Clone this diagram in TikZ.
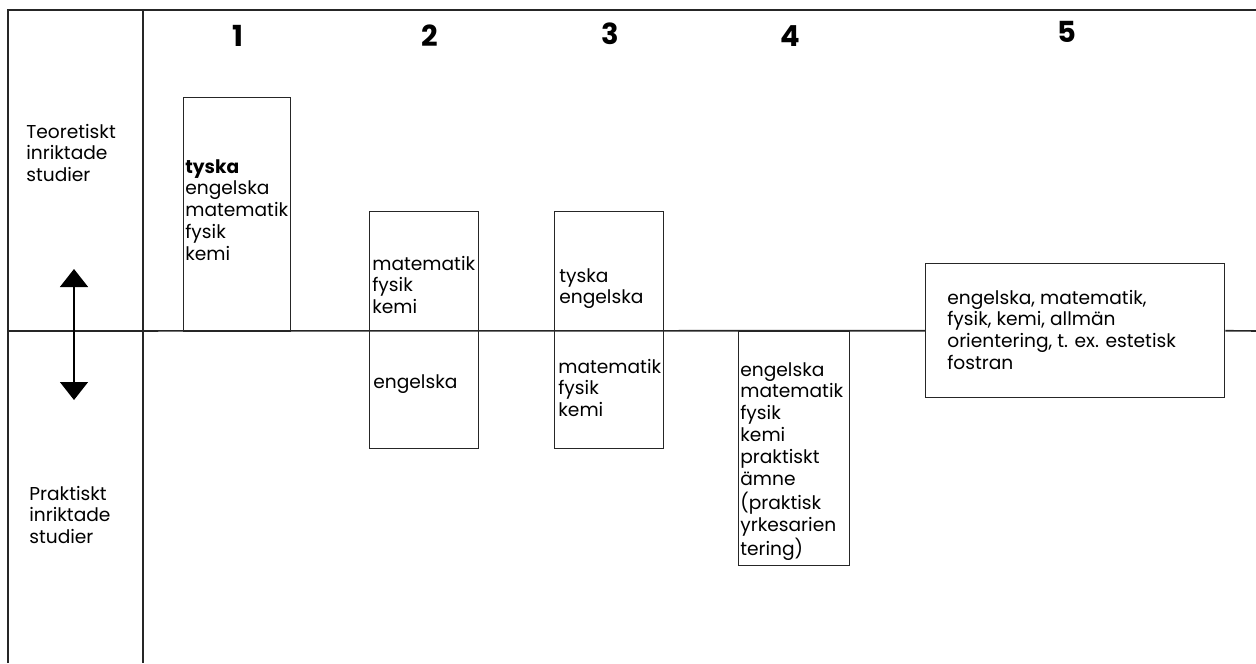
\documentclass[tikz,border=0pt]{standalone}
\usepackage{fontspec}
\setmainfont{Poppins}
\usetikzlibrary{arrows.meta}
\newcommand\txtlines[1]{\begin{tabular}[t]{@{}l@{}}#1\end{tabular}}
\begin{document}
\begin{tikzpicture}[x=0.02cm,y=-0.02cm,
  frame/.style={line width=1.1pt,black!85},
  subjbox/.style={draw,line width=0.8pt,black!85,inner sep=0pt,anchor=north west},
  txt/.style={inner sep=0pt,anchor=base west,font=\fontsize{10.6}{12.5}\selectfont},
  hdr/.style={inner sep=0pt,anchor=base,font=\fontsize{16.5}{19}\selectfont\bfseries}]
\useasboundingbox (0,0) rectangle (1256,663);
% frame
\coordinate (tl) at (8,10);
\coordinate (tr) at (1256,10);
\coordinate (bl) at (8,663);
\coordinate (dt) at (143,10);
\coordinate (db) at (143,663);
\coordinate (ml) at (8,331);
\coordinate (mr) at (1256,331);
\draw[frame] (bl) -- (tl) -- (tr);
\draw[frame] (dt) -- (db);
% headers
\node[hdr] (h1) at (238,46) {1};
\node[hdr] (h2) at (430,46) {2};
\node[hdr] (h3) at (610,44) {3};
\node[hdr] (h4) at (790,46) {4};
\node[hdr] (h5) at (1067,42) {5};
% boxes
\node[subjbox,minimum width=107*0.02cm,minimum height=234*0.02cm] (b1) at (183,97) {};
\node[subjbox,minimum width=109*0.02cm,minimum height=237*0.02cm] (b2) at (369,211) {};
\node[subjbox,minimum width=109*0.02cm,minimum height=237*0.02cm] (b3) at (554,211) {};
\node[subjbox,minimum width=111*0.02cm,minimum height=234*0.02cm] (b4) at (738,331) {};
\node[subjbox,minimum width=299*0.02cm,minimum height=134*0.02cm] (b5) at (925,263) {};
% middle line
\draw[frame,line width=0.9pt] (ml) -- (b5.west);
\draw[frame,line width=0.9pt] (b5.east) -- (mr);
% side labels
\node[txt] (teo) at (26,138) {\txtlines{Teoretiskt\\inriktade\\studier}};
\node[txt] (pra) at (29,500) {\txtlines{Praktiskt\\inriktade\\studier}};
% arrow
\coordinate (au) at (74,269);
\coordinate (ad) at (74,400);
\draw[line width=0.8pt,{Triangle[width=0.56cm,length=0.36cm]}-{Triangle[width=0.56cm,length=0.36cm]}] (au) -- (ad);
% box texts
\node[txt] (t1) at (185,173) {\txtlines{\textbf{tyska}\\engelska\\matematik\\fysik\\kemi}};
\node[txt] (t2a) at (372,270) {\txtlines{matematik\\fysik\\kemi}};
\node[txt] (t2b) at (373,388) {\txtlines{engelska}};
\node[txt] (t3a) at (559,282) {\txtlines{tyska\\engelska}};
\node[txt] (t3b) at (558,373) {\txtlines{matematik\\fysik\\kemi}};
\node[txt] (t4) at (740,376) {\txtlines{engelska\\matematik\\fysik\\kemi\\praktiskt\\ämne\\(praktisk\\yrkesarien\\tering)}};
\node[txt] (t5) at (947,304) {\txtlines{engelska, matematik,\\fysik, kemi, allmän\\orientering, t. ex. estetisk\\fostran}};
\end{tikzpicture}
\end{document}
